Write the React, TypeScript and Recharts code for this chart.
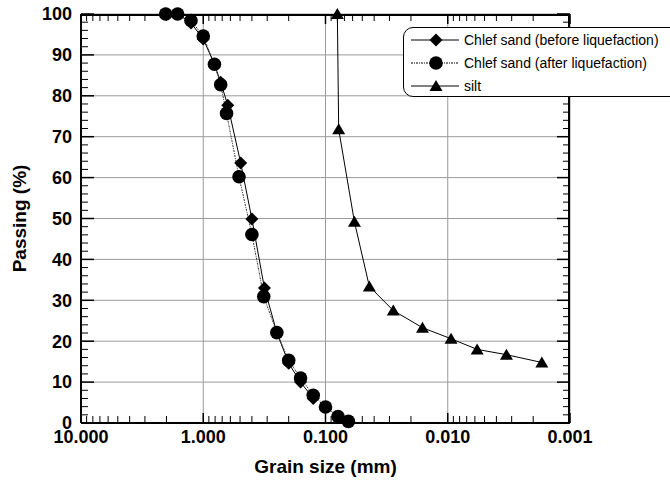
import { LineChart, Line, XAxis, YAxis, CartesianGrid, Legend } from 'recharts';

// Grain size (mm) and percent passing for each sample
const beforeSize = [2.03, 1.62, 1.26, 1.0, 0.81, 0.72, 0.63, 0.494, 0.4, 0.316, 0.25, 0.2, 0.16, 0.126];
const beforePassing = [100, 100, 97.8, 93.9, 87.7, 83.3, 77.7, 63.6, 49.9, 33.0, 22.1, 14.6, 10.0, 6.0];

const afterSize = [2.03, 1.62, 1.26, 1.0, 0.81, 0.72, 0.645, 0.51, 0.4, 0.32, 0.25, 0.2, 0.16, 0.126, 0.1, 0.079, 0.065];
const afterPassing = [100, 100, 98.4, 94.6, 87.7, 82.7, 75.7, 60.2, 46.1, 30.9, 22.1, 15.3, 11.0, 6.8, 3.9, 1.6, 0.4];

const siltSize = [0.08, 0.078, 0.058, 0.0438, 0.0279, 0.0161, 0.0094, 0.00575, 0.00331, 0.0017];
const siltPassing = [100, 71.8, 49.2, 33.4, 27.5, 23.3, 20.6, 18.0, 16.7, 14.8];

const sizeTicks = [10, 1, 0.1, 0.01, 0.001];
const passingTicks = [0, 10, 20, 30, 40, 50, 60, 70, 80, 90, 100];

const seriesNames = ['Chlef sand (before liquefaction)', 'Chlef sand (after liquefaction)', 'silt'];

// minor ticks: 2..9 within each decade, every 2 % on the passing axis
const sizeMinor = [1, 0.1, 0.01, 0.001].flatMap((dec) => [2, 3, 4, 5, 6, 7, 8, 9].map((k) => +(k * dec).toPrecision(3)));
const passingMinor = Array.from({ length: 51 }, (_, i) => i * 2).filter((v) => v % 10 !== 0);

const toRows = (sizes: number[], passing: number[]) => sizes.map((d, i) => ({ d, p: passing[i] }));
const beforeData = toRows(beforeSize, beforePassing);
const afterData = toRows(afterSize, afterPassing);
const siltData = toRows(siltSize, siltPassing);

const FONT = 'Arial, "Liberation Sans", sans-serif';
const SIZE_DOMAIN: [number, number] = [0.001, 10];
const PASS_DOMAIN: [number, number] = [0, 100];

const diamondPath = (cx: number, cy: number, r = 6.5) => `M${cx},${cy - r}L${cx + r},${cy}L${cx},${cy + r}L${cx - r},${cy}Z`;
const trianglePath = (cx: number, cy: number) => `M${cx},${cy - 6}L${cx + 6.5},${cy + 5}L${cx - 6.5},${cy + 5}Z`;

const DiamondDot = (props: any) => <path key={`dia-${props.index}`} d={diamondPath(props.cx, props.cy)} fill="#000" />;
const CircleDot = (props: any) => <circle key={`cir-${props.index}`} cx={props.cx} cy={props.cy} r={6.8} fill="#000" />;
const TriangleDot = (props: any) => <path key={`tri-${props.index}`} d={trianglePath(props.cx, props.cy)} fill="#000" />;

// tick marks only, no label text
const NoLabel = () => <g />;

const legendRows = [
  { name: seriesNames[0], dash: undefined, marker: (x: number, y: number) => <path d={diamondPath(x, y)} fill="#000" /> },
  { name: seriesNames[1], dash: '2 1 1 1', marker: (x: number, y: number) => <circle cx={x} cy={y} r={6.8} fill="#000" /> },
  { name: seriesNames[2], dash: undefined, marker: (x: number, y: number) => <path d={trianglePath(x, y)} fill="#000" /> },
];

function LegendBox() {
  return (
    <div
      style={{
        width: 280,
        height: 70,
        border: '1px solid #000',
        borderRadius: 10,
        background: '#fff',
        boxSizing: 'border-box',
        fontFamily: FONT,
        fontSize: 14,
        color: '#000',
      }}
    >
      {legendRows.map((row) => (
        <div key={row.name} style={{ display: 'flex', alignItems: 'center', height: 23 }}>
          <svg width={60} height={20} style={{ display: 'block' }}>
            <line x1={7} y1={10} x2={55} y2={10} stroke="#000" strokeWidth={1} strokeDasharray={row.dash} />
            {row.marker(32, 10)}
          </svg>
          <span style={{ whiteSpace: 'nowrap' }}>{row.name}</span>
        </div>
      ))}
    </div>
  );
}

const tickStyle = { fontSize: 18, fontWeight: 700, fill: '#000', fontFamily: FONT };

const XTitle = ({ viewBox }: any) => (
  <text x={viewBox.x + viewBox.width / 2} y={viewBox.y + viewBox.height - 7} textAnchor="middle" fontSize={19} fontWeight={700} fontFamily={FONT} fill="#000">
    Grain size (mm)
  </text>
);

const YTitle = ({ viewBox }: any) => {
  const cx = 26;
  const cy = viewBox.y + viewBox.height / 2;
  return (
    <text x={cx} y={cy} transform={`rotate(-90, ${cx}, ${cy})`} textAnchor="middle" fontSize={19} fontWeight={700} fontFamily={FONT} fill="#000">
      Passing (%)
    </text>
  );
};

const thin = { stroke: '#000', strokeWidth: 1 };
const thick = { stroke: '#000', strokeWidth: 1.5 };
const frame = { stroke: '#000', strokeWidth: 2 };

// shared props for the tick-only frame axes
const sizeFrame = { dataKey: 'd', type: 'number' as const, scale: 'log' as const, domain: SIZE_DOMAIN, reversed: true, allowDataOverflow: true, interval: 0, mirror: true, height: 1, tick: NoLabel };
const passFrame = { dataKey: 'p', type: 'number' as const, domain: PASS_DOMAIN, allowDataOverflow: true, interval: 0, mirror: true, width: 1, tick: NoLabel };

export default function App() {
  return (
    <div style={{ position: 'absolute', left: 0, top: 0, width: 670, height: 480, overflow: 'hidden', background: '#fff' }}>
      <LineChart width={670} height={480} margin={{ top: 14, right: 100, bottom: 0, left: 0 }}>
        <CartesianGrid stroke="#9a9a9a" strokeWidth={1} />
        <XAxis
          dataKey="d"
          type="number"
          scale="log"
          domain={SIZE_DOMAIN}
          reversed
          ticks={sizeTicks}
          tickFormatter={(v: number) => v.toFixed(3)}
          tick={tickStyle}
          tickLine={false}
          tickSize={0}
          tickMargin={7}
          height={57}
          axisLine={frame}
          interval={0}
          label={{ content: XTitle }}
        />
        {/* inward ticks along the bottom edge */}
        <XAxis xAxisId="bMinor" {...sizeFrame} ticks={sizeMinor} tickSize={6} axisLine={false} tickLine={thin} />
        <XAxis xAxisId="bMajor" {...sizeFrame} ticks={sizeTicks} tickSize={10} axisLine={false} tickLine={thick} />
        {/* top frame */}
        <XAxis xAxisId="tMinor" orientation="top" {...sizeFrame} ticks={sizeMinor} tickSize={6} axisLine={frame} tickLine={thin} />
        <XAxis xAxisId="tMajor" orientation="top" {...sizeFrame} ticks={sizeTicks} tickSize={10} axisLine={false} tickLine={thick} />

        <YAxis
          dataKey="p"
          type="number"
          domain={PASS_DOMAIN}
          ticks={passingTicks}
          interval={0}
          tick={tickStyle}
          tickLine={false}
          tickSize={0}
          tickMargin={9}
          width={81}
          axisLine={frame}
          label={{ content: YTitle }}
        />
        <YAxis yAxisId="lMinor" {...passFrame} ticks={passingMinor} tickSize={6} axisLine={false} tickLine={thin} />
        <YAxis yAxisId="lMajor" {...passFrame} ticks={passingTicks} tickSize={13} axisLine={false} tickLine={thick} />
        <YAxis yAxisId="rMinor" orientation="right" {...passFrame} ticks={passingMinor} tickSize={6} axisLine={frame} tickLine={thin} />
        <YAxis yAxisId="rMajor" orientation="right" {...passFrame} ticks={passingTicks} tickSize={13} axisLine={false} tickLine={thick} />

        <Legend
          layout="horizontal"
          verticalAlign="middle"
          align="center"
          content={LegendBox}
          wrapperStyle={{ left: 403, top: 27, width: 280 }}
        />

        <Line data={beforeData} dataKey="p" name={seriesNames[0]} stroke="#000" strokeWidth={1} dot={DiamondDot} activeDot={false} isAnimationActive={false} />
        <Line data={afterData} dataKey="p" name={seriesNames[1]} stroke="#333" strokeWidth={1} strokeDasharray="2 1 1 1" dot={CircleDot} activeDot={false} isAnimationActive={false} />
        <Line data={siltData} dataKey="p" name={seriesNames[2]} stroke="#000" strokeWidth={1} dot={TriangleDot} activeDot={false} isAnimationActive={false} />
      </LineChart>
    </div>
  );
}
